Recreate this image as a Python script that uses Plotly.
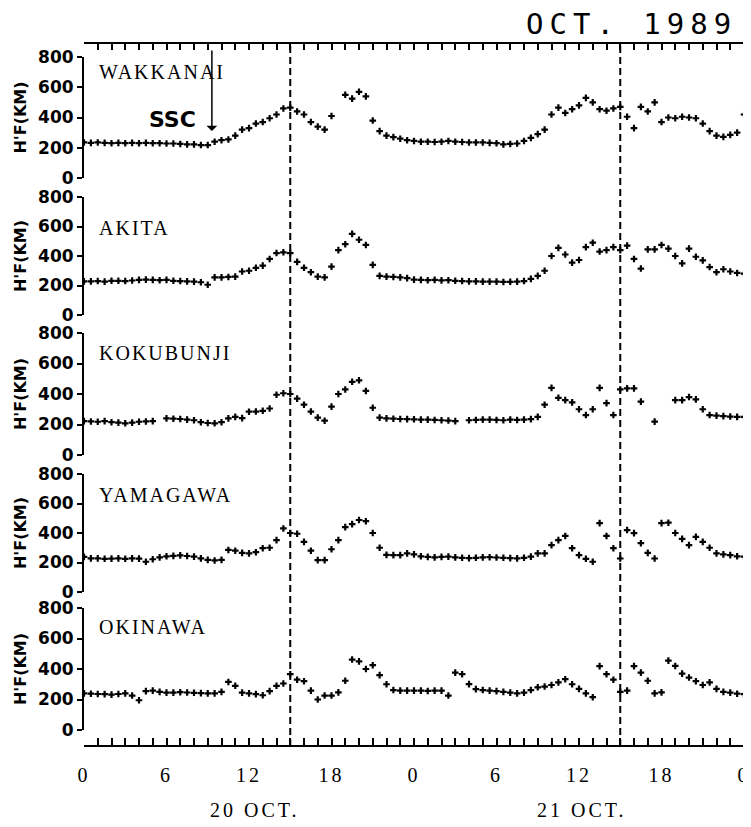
import plotly.graph_objects as go

# ---------------- data ----------------
# half-hourly samples, 0 h of 20 Oct .. 0 h of 22 Oct (UT hours)
hours = [i * 0.5 for i in range(97)]

stations = ["WAKKANAI", "AKITA", "KOKUBUNJI", "YAMAGAWA", "OKINAWA"]
N = None

wakkanai = [
    235, 232, 235, 232, 230, 232, 230, 232, 230, 232, 230, 230,
    228, 228, 225, 222, 222, 218, 218, 240, 250, 255, 280, 320,
    330, 360, 370, 395, 420, 460, 465, 440, 420, 370, 340, 320,
    410, N, 550, 525, 570, 540, 380, 310, 280, 270, 260, 250,
    245, 240, 240, 238, 240, 245, 240, 238, 235, 235, 235, 232,
    230, 222, 225, 228, 245, 265, 290, 320, 420, 465, 430, 455,
    480, 530, 500, 455, 445, 460, 470, 405, 330, 470, 440, 500,
    370, 400, 395, 405, 400, 395, 360, 310, 280, 272, 285, 300,
    420]

akita = [
    228, 228, 230, 226, 232, 232, 230, 234, 238, 240, 238, 236,
    238, 232, 230, 228, 226, 222, 205, 255, 255, 258, 260, 295,
    300, 320, 335, 380, 420, 425, 420, 360, 320, 290, 260, 255,
    328, 440, 480, 550, 510, 475, 340, 265, 260, 258, 255, 250,
    240, 238, 236, 238, 235, 236, 232, 230, 228, 228, 226, 226,
    226, 224, 225, 226, 230, 245, 265, 300, 400, 455, 410, 355,
    373, 460, 490, 430, 440, 460, 440, 470, 380, 315, 445, 445,
    475, 450, 400, 350, 450, 395, 370, 325, 290, 310, 295, 285,
    280]

kokubunji = [
    222, 220, 218, 222, 215, 212, 208, 212, 218, 220, 222, N,
    240, 238, 236, 232, 228, 215, 210, 208, 215, 240, 250, 242,
    284, 285, 290, 305, 395, 405, 400, 370, 330, 285, 245, 225,
    317, 400, 430, 480, 490, 420, 310, 245, 240, 238, 236, 235,
    234, 232, 232, 230, 228, 226, 222, N, 228, 230, 232, 232,
    230, 228, 232, 230, 232, 235, 250, 330, 440, 375, 360, 345,
    300, 262, 300, 440, 340, 262, 430, 437, 437, 350, N, 219,
    N, N, 360, 360, 380, 365, 300, 262, 258, 255, 252, 250,
    250]

yamagawa = [
    238, 228, 228, 225, 226, 228, 225, 228, 226, 205, 222, 235,
    242, 245, 248, 244, 240, 228, 218, 214, 218, 285, 280, 265,
    262, 270, 297, 300, 352, 431, 400, 395, 340, 280, 216, 216,
    290, 352, 440, 460, 488, 480, 400, 300, 252, 250, 250, 262,
    255, 242, 238, 235, 238, 240, 235, 232, 230, 232, 235, 236,
    234, 232, 230, 228, 232, 240, 262, 262, 318, 352, 380, 297,
    250, 225, 205, 467, 380, 297, 227, 420, 399, 331, 265, 227,
    467, 470, 400, 360, 318, 374, 340, 300, 262, 255, 250, 242,
    240]

okinawa = [
    240, 238, 236, 235, 232, 236, 240, 226, 195, 255, 258, 250,
    245, 245, 248, 246, 244, 242, 240, 240, 250, 315, 290, 245,
    240, 235, 228, 255, 290, 305, 366, 330, 320, 258, 200, 226,
    226, 247, 323, 462, 450, 400, 425, 360, 300, 262, 258, 258,
    258, 258, 256, 258, 258, 226, 376, 366, 301, 268, 262, 258,
    255, 250, 245, 240, 245, 262, 280, 285, 295, 312, 333, 300,
    270, 240, 215, 419, 366, 330, 250, 258, 419, 376, 323, 240,
    247, 455, 420, 370, 344, 320, 295, 312, 270, 250, 245, 238,
    235]

series = [wakkanai, akita, kokubunji, yamagawa, okinawa]

x_tick_vals = [0, 6, 12, 18, 24, 30, 36, 42, 48]
x_tick_labels = ["0", "6", "12", "18", "0", "6", "12", "18", "0"]
y_tick_vals = [0, 200, 400, 600, 800]
day_labels = ["20 OCT.", "21 OCT."]
day_centers = [12.4, 36.2]
dashed_hours = [15, 39]
ssc_hour = 9.3
ssc_height = 310

# ---------------- layout geometry (pixels) ----------------
# the page body has an 8 px default margin, so the figure is sized to the
# visible area and every reference pixel position p is placed at p - 8
OFF = 8
W, H = 751 - OFF, 827 - OFF
def px(p):
    return (p - OFF) / W
def py(p):
    return 1 - (p - OFF) / H

x_left, x_right = 84, 744
panel_px = [(57, 178), (197, 315), (333, 455), (474, 592), (608, 730)]
label_px = [72, 228, 353, 495, 627]
bottom_axis_px = 746
top_axis_px = 43

fig = go.Figure()
for i, (name, vals) in enumerate(zip(stations, series)):
    fig.add_trace(go.Scatter(
        x=hours, y=vals, mode="markers", name=name,
        xaxis="x", yaxis="y" if i == 0 else f"y{i+1}",
        marker=dict(symbol="cross", size=5.5, color="black"),
        showlegend=False, hoverinfo="x+y"))
# invisible companion trace so that the top time axis is drawn
fig.add_trace(go.Scatter(
    x=hours, y=wakkanai, mode="markers", xaxis="x2", yaxis="y",
    marker=dict(opacity=0), showlegend=False, hoverinfo="skip"))

tickfont_y = dict(family="DejaVu Sans", size=17, color="black", weight="bold")
layout = dict(
    width=W, height=H,
    margin=dict(l=0, r=0, t=0, b=0, autoexpand=False),
    paper_bgcolor="white", plot_bgcolor="white",
    showlegend=False,
    xaxis=dict(
        domain=[px(x_left), px(x_right)], range=[0, 48],
        anchor="free", position=py(bottom_axis_px),
        showline=True, linecolor="black", linewidth=2,
        showgrid=False, zeroline=False,
        tickmode="array", tickvals=x_tick_vals,
        ticktext=[f'<span style="letter-spacing:3px">{t}</span>' for t in x_tick_labels],
        ticks="inside", ticklen=7, tickwidth=1.5, tickcolor="black",
        minor=dict(dtick=1, ticks="inside", ticklen=7, tickwidth=1.5, tickcolor="black"),
        ticklabelstandoff=11,
        tickfont=dict(family="Liberation Serif", size=20, color="black"),
        automargin=False,
    ),
    xaxis2=dict(
        domain=[px(x_left), px(x_right)], range=[0, 48],
        overlaying="x", side="top", anchor="free", position=py(top_axis_px),
        showline=True, linecolor="black", linewidth=2,
        showgrid=False, zeroline=False, showticklabels=False,
        tickmode="linear", tick0=0, dtick=1,
        ticks="inside", ticklen=6, tickwidth=1.5, tickcolor="black",
        automargin=False,
    ),
)
for i, (top, bot) in enumerate(panel_px):
    key = "yaxis" if i == 0 else f"yaxis{i+1}"
    layout[key] = dict(
        domain=[py(bot), py(top)], range=[0, 800], anchor="x",
        showline=True, linecolor="black", linewidth=2, mirror="ticks",
        showgrid=False, zeroline=False,
        tickmode="array", tickvals=y_tick_vals,
        ticks="outside", ticklen=5, tickwidth=1.5, tickcolor="black",
        tickfont=tickfont_y,
        title=dict(text="H'F(KM)", standoff=7,
                   font=dict(family="DejaVu Sans", size=16, color="black", weight="bold")),
        automargin=False,
    )
fig.update_layout(**layout)

# dashed vertical lines
for h in dashed_hours:
    fig.add_shape(type="line", xref="x", yref="paper", x0=h, x1=h,
                  y0=py(bottom_axis_px), y1=py(top_axis_px),
                  line=dict(color="black", width=2, dash="7px,4px"))

ann = []
for name, yp in zip(stations, label_px):
    ann.append(dict(text=f'<span style="letter-spacing:2px">{name}</span>',
                    xref="paper", yref="paper", x=px(97), y=py(yp),
                    xanchor="left", yanchor="middle", showarrow=False,
                    font=dict(family="Liberation Serif", size=20, color="black")))
for lab, xc in zip(day_labels, day_centers):
    ann.append(dict(text=f'<span style="letter-spacing:3px">{lab}</span>',
                    xref="x", yref="paper", x=xc, y=py(810),
                    xanchor="center", yanchor="middle", showarrow=False,
                    font=dict(family="Liberation Serif", size=20, color="black")))
ann.append(dict(text='<span style="letter-spacing:6px">OCT. 1989</span>',
                xref="paper", yref="paper", x=px(739), y=py(24),
                xanchor="right", yanchor="middle", showarrow=False,
                font=dict(family="DejaVu Sans Mono", size=29, color="black")))
ann.append(dict(text="", xref="x", yref="y", x=ssc_hour, y=ssc_height,
                showarrow=True, arrowhead=1, arrowsize=1.2, arrowwidth=1.5,
                arrowcolor="black", ax=0, ay=-82))
ann.append(dict(text="SSC", xref="paper", yref="paper", x=px(172), y=py(120),
                xanchor="center", yanchor="middle", showarrow=False,
                font=dict(family="DejaVu Sans", size=22, color="black", weight="bold")))
fig.update_layout(annotations=ann)

fig.write_html("out.html")
